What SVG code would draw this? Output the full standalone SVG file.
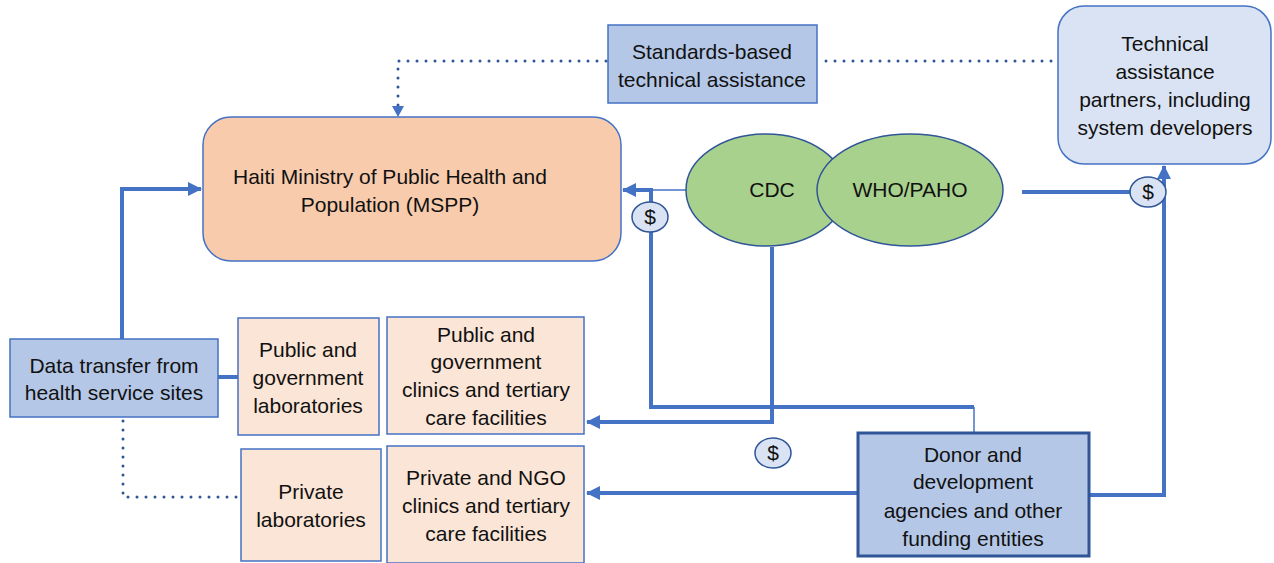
<svg xmlns="http://www.w3.org/2000/svg" width="1274" height="563" viewBox="0 0 1274 563">
<style>
text{font-family:"Liberation Sans",Arial,sans-serif;font-size:21px;fill:#111;text-anchor:middle}
.box{stroke:#4472C4;stroke-width:1.5}
.blue{fill:#B4C7E7}
.peach{fill:#FBE5D6}
.thick{fill:none;stroke:#4472C4;stroke-width:4}
.thin{fill:none;stroke:#4472C4;stroke-width:1.5}
.dot{fill:none;stroke:#2F5597;stroke-width:3;stroke-linecap:round;stroke-dasharray:0 9}
.dollar{fill:#DAE3F3;stroke:#2F5597;stroke-width:1.5}
.ell{fill:#A9D18E;stroke:#2F5597;stroke-width:1.5}
</style>
<defs>
<marker id="ah" markerUnits="userSpaceOnUse" markerWidth="14" markerHeight="14" viewBox="0 0 14 14" refX="13" refY="7" orient="auto">
<path d="M0,0 L14,7 L0,14 z" fill="#4472C4"/>
</marker>
</defs>

<g id="connectors">
<path class="dot" d="M606,61 H398 V106"/>
<path d="M392,106 L404,106 L398,117 z" fill="#4472C4"/>
<path class="dot" d="M826,61 H1056"/>
<path class="thick" d="M122,339 V189 H201" marker-end="url(#ah)"/>
<path class="thick" d="M218,377 H238"/>
<path class="dot" d="M123,421 V497 H240"/>
<path class="thin" d="M686,190 H651"/>
<path class="thick" d="M974,407 H651 V190 H623" marker-end="url(#ah)"/>
<path class="thin" d="M974,407 V433"/>
<path class="thick" d="M772,247 V422 H587" marker-end="url(#ah)"/>
<path class="thick" d="M858,493 H587" marker-end="url(#ah)"/>
<path class="thick" d="M1089,495 H1164 V166" marker-end="url(#ah)"/>
<path class="thick" d="M1022,192 H1132"/>
</g>

<g id="node-standards">
<rect class="box blue" x="608" y="25" width="209" height="78"/>
<text x="712" y="59">Standards-based</text>
<text x="712" y="87">technical assistance</text>
</g>

<g id="node-tech-partners">
<rect class="box" fill="#DAE3F3" x="1058" y="6" width="213" height="158" rx="26"/>
<text x="1165" y="51">Technical</text>
<text x="1165" y="79">assistance</text>
<text x="1165" y="107">partners, including</text>
<text x="1165" y="135">system developers</text>
</g>

<g id="node-mspp">
<rect class="box" fill="#F8CBAD" x="203" y="117" width="418" height="144" rx="28"/>
<text x="390" y="184">Haiti Ministry of Public Health and</text>
<text x="390" y="212">Population (MSPP)</text>
</g>

<g id="node-cdc">
<ellipse class="ell" cx="766" cy="190" rx="80" ry="56"/>
<text x="772" y="197">CDC</text>
</g>

<g id="node-who">
<ellipse class="ell" cx="910" cy="190" rx="93" ry="56"/>
<text x="910" y="197">WHO/PAHO</text>
</g>

<g id="dollar-1">
<ellipse class="dollar" cx="650" cy="217" rx="18" ry="15"/>
<text x="650" y="224">$</text>
</g>
<g id="dollar-2">
<ellipse class="dollar" cx="773" cy="453" rx="18" ry="15"/>
<text x="773" y="460">$</text>
</g>
<g id="dollar-3">
<ellipse class="dollar" cx="1148" cy="192" rx="18" ry="15"/>
<text x="1148" y="199">$</text>
</g>

<g id="node-data-transfer">
<rect class="box blue" x="10" y="339" width="208" height="78"/>
<text x="114" y="373">Data transfer from</text>
<text x="114" y="400">health service sites</text>
</g>

<g id="node-public-labs">
<rect class="box peach" x="238" y="318" width="141" height="117"/>
<text x="308" y="357">Public and</text>
<text x="308" y="385">government</text>
<text x="308" y="413">laboratories</text>
</g>

<g id="node-public-clinics">
<rect class="box peach" x="387" y="317" width="197" height="117"/>
<text x="486" y="342">Public and</text>
<text x="486" y="369">government</text>
<text x="486" y="397">clinics and tertiary</text>
<text x="486" y="425">care facilities</text>
</g>

<g id="node-private-labs">
<rect class="box peach" x="241" y="449" width="140" height="112"/>
<text x="311" y="499">Private</text>
<text x="311" y="527">laboratories</text>
</g>

<g id="node-private-clinics">
<rect class="box peach" x="387" y="446" width="197" height="117"/>
<text x="486" y="485">Private and NGO</text>
<text x="486" y="513">clinics and tertiary</text>
<text x="486" y="541">care facilities</text>
</g>

<g id="node-donor">
<rect fill="#B4C7E7" stroke="#2F5597" stroke-width="3" x="858" y="433" width="231" height="123"/>
<text x="973" y="462">Donor and</text>
<text x="973" y="489">development</text>
<text x="973" y="518">agencies and other</text>
<text x="973" y="546">funding entities</text>
</g>
</svg>
